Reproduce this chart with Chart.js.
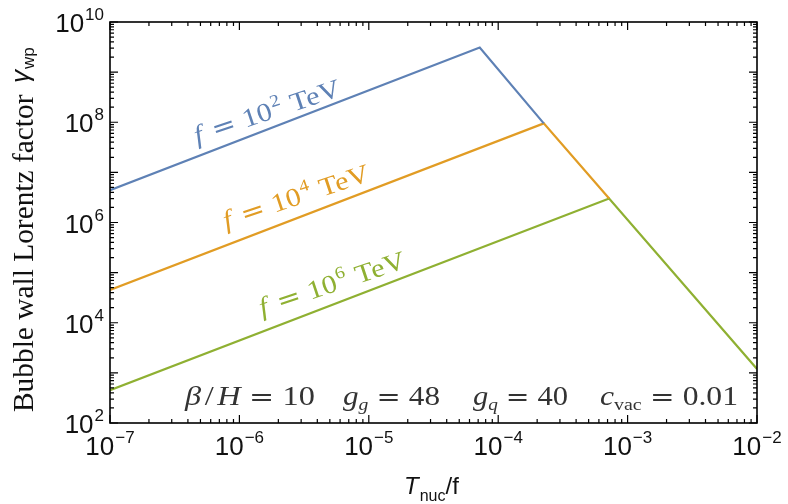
<!DOCTYPE html>
<html>
<head>
<meta charset="utf-8">
<script src="https://cdn.jsdelivr.net/npm/chart.js@4.4.0/dist/chart.umd.min.js"></script>
<style>
  html, body { margin: 0; padding: 0; background: #fff; }
  #wrap { width: 788px; height: 504px; position: relative; }
</style>
</head>
<body>
<div id="wrap"><canvas id="lorentzChart"></canvas></div>
<script>
// valeurs (x = T_nuc/f, y = gamma_wp)
const xBlue = [1e-7, 7.2e-5, 2.25e-4];
const yBlue = [4.4e6, 3.1e9, 9.5e7];
const xOrange = [1e-7, 2.25e-4, 7.2e-4];
const yOrange = [4.5e4, 9.5e7, 3.0e6];
const xGreen = [1e-7, 7.2e-4, 1e-2];
const yGreen = [4.5e2, 3.0e6, 1.2e3];

const seriesNames = ['f = 10^2 TeV', 'f = 10^4 TeV', 'f = 10^6 TeV'];
const seriesExps = ['2', '4', '6'];
const xTickExps = [-7, -6, -5, -4, -3, -2];
const yTickExps = [2, 4, 6, 8, 10];

const colors = ['#5e81b5', '#e19c24', '#8fb032'];
const SERIF = '"Liberation Serif", "DejaVu Serif", serif';
const EQ = '"DejaVu Serif", serif';
const SANS = '"Liberation Sans", Arial, sans-serif';

function toPoints(xs, ys) {
  return xs.map(function (x, i) { return { x: x, y: ys[i] }; });
}

function supText(n) {
  return String(n).replace('-', '\u2212');
}

// dessine une suite de morceaux de texte (police, décalage vertical)
function drawParts(ctx, parts, x, y) {
  let cx = x;
  parts.forEach(function (p) {
    if (p.gap) { cx += p.gap; return; }
    ctx.font = p.font;
    ctx.fillText(p.t, cx, y + (p.dy || 0));
    cx += ctx.measureText(p.t).width + (p.after || 0);
  });
  return cx - x;
}

function partsWidth(ctx, parts) {
  let w = 0;
  parts.forEach(function (p) {
    if (p.gap) { w += p.gap; return; }
    ctx.font = p.font;
    w += ctx.measureText(p.t).width + (p.after || 0);
  });
  return w;
}

// dessine le groupe en l'étirant légèrement pour qu'il fasse la largeur voulue
function drawFitted(ctx, parts, x, y, target) {
  const sx = target / partsWidth(ctx, parts);
  ctx.save();
  ctx.translate(x, y);
  ctx.scale(sx, 1);
  drawParts(ctx, parts, 0, 0);
  ctx.restore();
}

function powParts(exp) {
  return [
    { t: '10', font: '26px ' + SANS, after: 1 },
    { t: supText(exp), font: '17px ' + SANS, dy: -12 }
  ];
}

const framePlugin = {
  id: 'framePlugin',
  afterDraw: function (chart) {
    const ctx = chart.ctx;
    const a = chart.chartArea;
    const xs = chart.scales.x;
    const ys = chart.scales.y;
    ctx.save();

    // cadre
    ctx.strokeStyle = '#000';
    ctx.lineWidth = 1.6;
    ctx.strokeRect(a.left, a.top, a.right - a.left, a.bottom - a.top);

    // graduations vers l'intérieur
    ctx.lineWidth = 1.2;
    ctx.beginPath();
    for (let d = -7; d <= -2; d++) {
      for (let k = 1; k <= 9; k++) {
        const v = k * Math.pow(10, d);
        if (v > 1.0001e-2) break;
        const px = xs.getPixelForValue(v);
        const len = k === 1 ? 8 : 4;
        ctx.moveTo(px, a.bottom); ctx.lineTo(px, a.bottom - len);
        ctx.moveTo(px, a.top); ctx.lineTo(px, a.top + len);
      }
    }
    for (let d = 2; d <= 10; d++) {
      for (let k = 1; k <= 9; k++) {
        const v = k * Math.pow(10, d);
        if (v > 1.0001e10) break;
        const py = ys.getPixelForValue(v);
        const len = k === 1 ? 8 : 4;
        ctx.moveTo(a.left, py); ctx.lineTo(a.left + len, py);
        ctx.moveTo(a.right, py); ctx.lineTo(a.right - len, py);
      }
    }
    ctx.stroke();

    // étiquettes des axes
    ctx.fillStyle = '#111';
    ctx.textBaseline = 'alphabetic';
    ctx.textAlign = 'left';
    xTickExps.forEach(function (e) {
      const px = xs.getPixelForValue(Math.pow(10, e));
      const parts = powParts(e);
      const w = partsWidth(ctx, parts);
      drawParts(ctx, parts, px - w / 2, a.bottom + 32);
    });
    yTickExps.forEach(function (e) {
      const py = ys.getPixelForValue(Math.pow(10, e));
      const parts = powParts(e);
      const w = partsWidth(ctx, parts);
      drawParts(ctx, parts, a.left - 6 - w, py + 10);
    });

    // titre axe x
    drawParts(ctx, [
      { t: 'T', font: 'italic 24px ' + SANS, after: 1 },
      { t: 'nuc', font: '16px ' + SANS, dy: 7 },
      { t: '/f', font: '24px ' + SANS }
    ], 404, 494);

    // titre axe y
    ctx.save();
    ctx.translate(33, 412);
    ctx.rotate(-Math.PI / 2);
    const ttl = 'Bubble wall Lorentz factor';
    ctx.font = '22px ' + SERIF;
    const fs = 22 * 318 / ctx.measureText(ttl).width;
    ctx.font = fs.toFixed(1) + 'px ' + SERIF;
    ctx.fillText(ttl, 0, 0);
    drawParts(ctx, [
      { t: '\u03b3', font: 'italic 26px ' + SANS, dy: -4, after: 1 },
      { t: 'wp', font: '17px ' + SANS, dy: 1 }
    ], 329, 0);
    ctx.restore();

    // étiquettes des courbes
    const starts = [[197, 144], [226, 229], [262, 316]];
    starts.forEach(function (s, i) {
      ctx.save();
      ctx.fillStyle = colors[i];
      ctx.translate(s[0], s[1]);
      ctx.rotate(-18.5 * Math.PI / 180);
      drawFitted(ctx, [
        { t: 'f', font: 'italic 26px ' + SERIF, after: 2 },
        { gap: 7 },
        { t: '=', font: '25px ' + EQ },
        { gap: 7 },
        { t: '10', font: '26px ' + SERIF, after: 1 },
        { t: seriesExps[i], font: '17px ' + SERIF, dy: -11 },
        { gap: 8 },
        { t: 'TeV', font: '26px ' + SERIF }
      ], 0, 0, 153);
      ctx.restore();
    });

    // paramètres
    ctx.fillStyle = '#333';
    const it = 'italic 27px ' + SERIF;
    const rm = '27px ' + SERIF;
    const eq = '25px ' + EQ;
    const sub = 'italic 17px ' + SERIF;
    const subRm = '17px ' + SERIF;
    const base = 405;
    const groups = [
      [185, 315, [
        { t: '\u03b2', font: it, after: 3 }, { t: '/', font: rm, after: 3 }, { t: 'H', font: it },
        { gap: 7 }, { t: '=', font: eq }, { gap: 7 }, { t: '10', font: rm }
      ]],
      [343, 440, [
        { t: 'g', font: it }, { t: 'g', font: sub, dy: 5 },
        { gap: 7 }, { t: '=', font: eq }, { gap: 7 }, { t: '48', font: rm }
      ]],
      [473, 568, [
        { t: 'g', font: it }, { t: 'q', font: sub, dy: 5 },
        { gap: 7 }, { t: '=', font: eq }, { gap: 7 }, { t: '40', font: rm }
      ]],
      [600, 738, [
        { t: 'c', font: it }, { t: 'vac', font: subRm, dy: 5 },
        { gap: 7 }, { t: '=', font: eq }, { gap: 7 }, { t: '0.01', font: rm }
      ]]
    ];
    groups.forEach(function (g) {
      drawFitted(ctx, g[2], g[0], base, g[1] - g[0]);
    });

    ctx.restore();
  }
};

const ctx = document.getElementById('lorentzChart').getContext('2d');
new Chart(ctx, {
  type: 'line',
  data: {
    datasets: [
      { label: seriesNames[0], data: toPoints(xBlue, yBlue), borderColor: colors[0] },
      { label: seriesNames[1], data: toPoints(xOrange, yOrange), borderColor: colors[1] },
      { label: seriesNames[2], data: toPoints(xGreen, yGreen), borderColor: colors[2] }
    ]
  },
  options: {
    responsive: true,
    maintainAspectRatio: false,
    animation: false,
    layout: { padding: { left: 110, top: 22, right: 31, bottom: 81 } },
    elements: {
      line: { borderWidth: 2.2, tension: 0, fill: false },
      point: { radius: 0, hoverRadius: 0 }
    },
    scales: {
      x: { type: 'logarithmic', min: 1e-7, max: 1e-2, display: false },
      y: { type: 'logarithmic', min: 1e2, max: 1e10, display: false }
    },
    plugins: {
      legend: { display: false },
      tooltip: { enabled: false }
    }
  },
  plugins: [framePlugin]
});
</script>
</body>
</html>
